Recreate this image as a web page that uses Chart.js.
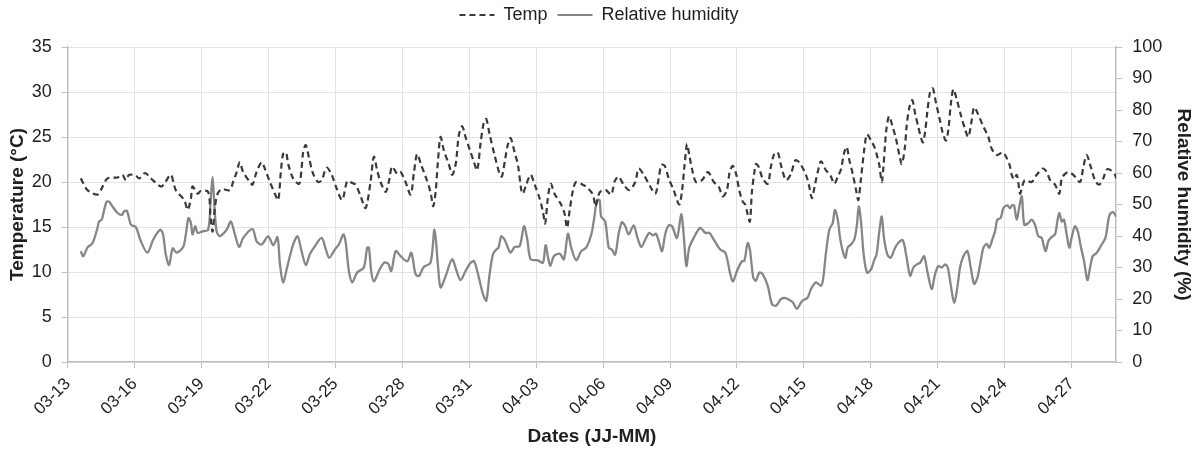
<!DOCTYPE html>
<html>
<head>
<meta charset="utf-8">
<script src="https://cdn.jsdelivr.net/npm/chart.js@4/dist/chart.umd.min.js"></script>
<style>
  html, body { margin: 0; padding: 0; background: #fff; }
  #wrap { width: 1194px; height: 452px; }
</style>
</head>
<body>
<div id="wrap"><canvas id="meteo"></canvas></div>
<script>
// day offsets are counted from 03-13 00:00
const dateLabels = ['03-13', '03-16', '03-19', '03-22', '03-25', '03-28', '03-31', '04-03',
  '04-06', '04-09', '04-12', '04-15', '04-18', '04-21', '04-24', '04-27'];

const tempDays = [0.58, 0.88, 1.33, 1.52, 1.78, 2.23, 2.45, 2.60, 2.75, 3.05, 3.20, 3.47, 3.72, 4.17, 4.32, 4.62, 4.84,
  5.22, 5.37, 5.52, 5.59, 5.82, 5.96, 6.29, 6.40, 6.49, 6.59, 6.70, 6.89, 7.26, 7.41, 7.57, 7.71, 7.86, 8.16, 8.28,
  8.46, 8.69, 8.83, 9.06, 9.28, 9.43, 9.55, 9.65, 9.78, 9.88, 10.10, 10.37, 10.48, 10.55, 10.67, 10.82, 11.00, 11.22,
  11.38, 11.60, 11.83, 12.05, 12.30, 12.52, 12.65, 12.90, 13.13, 13.35, 13.57, 13.72, 13.87, 14.02, 14.25, 14.39,
  14.54, 14.77, 14.92, 15.14, 15.37, 15.52, 15.66, 15.84, 16.04, 16.26, 16.38, 16.49, 16.59, 16.71, 16.86, 17.09,
  17.23, 17.39, 17.53, 17.68, 17.83, 18.06, 18.21, 18.35, 18.51, 18.65, 18.76, 18.91, 19.13, 19.36, 19.46, 19.61,
  19.73, 19.85, 20.03, 20.18, 20.33, 20.40, 20.55, 20.75, 20.93, 21.15, 21.30, 21.40, 21.52, 21.65, 21.82, 22.09,
  22.27, 22.38, 22.50, 22.65, 22.79, 23.09, 23.32, 23.54, 23.66, 23.80, 23.91, 24.13, 24.36, 24.52, 24.69, 24.92,
  25.17, 25.44, 25.59, 25.82, 26.11, 26.34, 26.49, 26.61, 26.76, 26.94, 27.16, 27.41, 27.53, 27.65, 27.76, 27.86,
  27.98, 28.16, 28.43, 28.70, 28.96, 29.18, 29.36, 29.55, 29.67, 29.81, 29.97, 30.10, 30.26, 30.37, 30.48, 30.58,
  30.67, 30.78, 30.85, 30.97, 31.15, 31.38, 31.52, 31.67, 31.83, 31.97, 32.20, 32.42, 32.61, 32.79, 33.09, 33.24,
  33.36, 33.48, 33.62, 33.77, 33.99, 34.18, 34.36, 34.52, 34.66, 34.81, 34.92, 35.04, 35.19, 35.34, 35.44, 35.56,
  35.71, 35.83, 36.01, 36.16, 36.26, 36.38, 36.49, 36.56, 36.64, 36.71, 36.82, 36.96, 37.13, 37.28, 37.39, 37.53,
  37.61, 37.73, 37.86, 37.98, 38.13, 38.33, 38.43, 38.53, 38.65, 38.78, 38.92, 39.07, 39.22, 39.37, 39.48, 39.58,
  39.70, 39.85, 40.03, 40.22, 40.37, 40.52, 40.63, 40.78, 41.02, 41.27, 41.42, 41.65, 41.91, 42.02, 42.21, 42.32,
  42.42, 42.54, 42.61, 42.69, 42.81, 42.91, 43.21, 43.44, 43.71, 43.89, 44.04, 44.26, 44.45, 44.56, 44.71, 44.86,
  45.08, 45.38, 45.53, 45.68, 45.86, 46.05, 46.23, 46.42, 46.58, 46.76, 46.95, 47.00];
const tempValues = [20.4, 19.1, 18.6, 19.3, 20.4, 20.5, 20.8, 20.2, 20.8, 20.7, 20.4, 21.0, 20.4, 19.5, 19.8, 20.8, 19.1,
  18.0, 16.9, 18.2, 19.5, 18.7, 19.0, 18.9, 16.0, 14.5, 17.1, 18.6, 19.2, 19.1, 20.0, 21.1, 22.2, 21.1, 20.0, 19.7,
  21.1, 22.2, 21.5, 20.0, 18.7, 18.0, 21.1, 23.1, 23.3, 22.0, 20.4, 19.8, 21.5, 23.3, 24.1, 22.6, 20.9, 20.0,
  20.2, 21.6, 20.8, 19.3, 18.0, 20.1, 20.0, 19.7, 18.4, 17.1, 20.0, 22.8, 21.3, 20.0, 18.9, 20.0,
  21.7, 20.9, 21.1, 20.0, 18.6, 21.1, 23.1, 21.9, 20.6, 18.9, 17.3, 18.9, 22.2, 25.0, 23.5, 21.9,
  20.8, 22.0, 25.2, 26.2, 25.0, 23.3, 22.2, 21.3, 24.4, 26.6, 27.0, 25.3, 23.0, 20.9, 20.6, 22.6,
  24.2, 24.9, 23.3, 21.9, 19.1, 18.7, 19.7, 20.8, 19.7, 18.2, 16.7, 15.4, 18.2, 19.8, 18.7, 17.6,
  16.5, 14.9, 16.9, 19.1, 20.0, 19.7, 19.3, 18.6, 17.3, 18.6, 19.0, 19.1, 18.6, 20.1, 20.6, 19.7,
  19.1, 20.0, 21.5, 20.8, 19.5, 18.7, 20.4, 21.9, 21.8, 20.4, 19.1, 17.5, 18.9, 21.9, 24.2, 23.0,
  21.5, 20.0, 20.2, 21.1, 20.0, 19.5, 18.4, 19.1, 21.1, 21.8, 20.8, 19.1, 17.8, 17.5, 16.4, 15.6,
  18.9, 21.1, 22.0, 21.7, 20.4, 19.8, 21.7, 23.1, 23.3, 21.9, 20.2, 20.9, 22.4, 22.2, 20.8, 19.5,
  18.2, 19.5, 21.1, 22.3, 21.3, 20.8, 19.8, 20.6, 21.4, 23.3, 23.9, 22.4, 20.9, 19.1, 18.0, 20.4,
  23.7, 25.3, 24.6, 23.9, 23.1, 21.9, 20.0, 21.5, 24.2, 26.1, 27.3, 26.3, 24.8, 23.0, 22.0, 23.9,
  26.3, 28.3, 29.1, 27.7, 26.1, 24.4, 25.5, 27.7, 29.9, 30.4, 28.8, 27.2, 25.5, 24.6, 25.9, 28.5,
  30.3, 29.2, 27.5, 25.9, 25.0, 26.8, 28.3, 27.7, 26.3, 25.0, 23.7, 23.0, 23.3, 23.0, 22.0, 20.8,
  20.3, 20.8, 20.0, 18.7, 19.7, 20.2, 20.0, 20.8, 21.5, 21.1, 20.2, 19.7, 18.7, 20.4, 20.9, 21.1,
  20.8, 20.0, 21.7, 23.0, 21.7, 20.2, 19.7, 20.4, 21.4, 21.3, 20.8, 20.4];

const rhDays = [0.58, 0.69, 0.88, 1.11, 1.33, 1.40, 1.52, 1.63, 1.74, 1.85, 2.00, 2.23, 2.42, 2.52, 2.65, 2.83, 3.05,
  3.27, 3.57, 3.83, 4.14, 4.27, 4.39, 4.54, 4.70, 4.87, 5.17, 5.29, 5.41, 5.52, 5.59, 5.71, 5.82, 6.04, 6.29, 6.40,
  6.49, 6.56, 6.67, 6.82, 7.12, 7.31, 7.49, 7.68, 7.86, 8.28, 8.46, 8.69, 8.98, 9.21, 9.40, 9.51, 9.65, 9.83, 10.10,
  10.30, 10.48, 10.67, 10.85, 11.08, 11.38, 11.57, 11.72, 11.97, 12.15, 12.35, 12.45, 12.60, 12.75, 12.97, 13.27,
  13.42, 13.50, 13.60, 13.72, 13.95, 14.17, 14.36, 14.50, 14.70, 14.92, 15.22, 15.40, 15.59, 15.74, 15.96, 16.26,
  16.44, 16.59, 16.71, 16.94, 17.23, 17.43, 17.61, 17.83, 18.06, 18.21, 18.39, 18.61, 18.76, 18.91, 19.06, 19.21,
  19.31, 19.43, 19.58, 19.70, 19.85, 20.03, 20.26, 20.45, 20.60, 20.75, 21.08, 21.30, 21.42, 21.52, 21.63, 21.79,
  22.05, 22.24, 22.42, 22.57, 22.79, 23.02, 23.24, 23.47, 23.62, 23.72, 23.84, 23.91, 24.09, 24.25, 24.39, 24.54,
  24.69, 24.84, 24.99, 25.14, 25.37, 25.52, 25.71, 25.89, 26.07, 26.22, 26.37, 26.49, 26.64, 26.78, 26.94, 27.09,
  27.31, 27.50, 27.61, 27.73, 27.86, 28.06, 28.35, 28.58, 28.76, 29.00, 29.25, 29.48, 29.70, 29.82, 30.00, 30.22,
  30.33, 30.48, 30.58, 30.73, 30.85, 31.00, 31.15, 31.38, 31.57, 31.75, 31.97, 32.17, 32.35, 32.50, 32.69, 32.91,
  33.17, 33.32, 33.54, 33.77, 33.87, 33.99, 34.14, 34.29, 34.39, 34.52, 34.62, 34.74, 34.86, 34.96, 35.11, 35.26,
  35.37, 35.46, 35.56, 35.68, 35.83, 36.01, 36.14, 36.26, 36.38, 36.49, 36.59, 36.74, 36.89, 37.09, 37.23, 37.43,
  37.58, 37.76, 37.91, 38.06, 38.21, 38.39, 38.53, 38.73, 38.88, 39.03, 39.18, 39.33, 39.45, 39.60, 39.74, 39.88,
  40.00, 40.15, 40.33, 40.48, 40.63, 40.78, 40.90, 41.05, 41.20, 41.31, 41.47, 41.57, 41.67, 41.82, 41.94, 42.12,
  42.24, 42.32, 42.42, 42.54, 42.66, 42.77, 42.88, 43.06, 43.21, 43.36, 43.51, 43.66, 43.74, 43.84, 43.96, 44.11,
  44.26, 44.36, 44.45, 44.56, 44.66, 44.78, 44.90, 45.00, 45.15, 45.28, 45.41, 45.56, 45.71, 45.83, 45.95, 46.13,
  46.35, 46.52, 46.70, 46.86, 47.00];
const rhValues = [35.2, 33.6, 36.3, 37.8, 42.6, 44.6, 45.2, 48.3, 50.9, 50.9, 49.4, 47.3, 46.7, 47.8, 48.0, 43.6, 42.8,
  38.4, 34.7, 38.9, 42.0, 40.5, 34.2, 30.8, 36.1, 34.7, 36.5, 40.5, 45.7, 44.1, 40.5, 43.1, 41.0, 41.5, 42.0, 50.9,
  58.8, 50.9, 41.5, 40.0, 42.0, 44.6, 40.5, 36.5, 39.4, 42.2, 38.4, 37.3, 39.9, 37.1, 39.6, 31.0, 25.3, 30.0, 37.3,
  39.9, 35.2, 30.8, 34.2, 36.8, 39.4, 35.7, 33.1, 35.7, 37.3, 40.5, 38.4, 28.9, 25.3, 28.4, 30.0,
  36.3, 36.3, 28.9, 25.6, 28.9, 31.5, 31.2, 28.9, 35.2, 33.6, 32.0, 34.7, 27.9, 27.3, 30.2, 31.5,
  42.0, 31.0, 23.7, 27.3, 32.6, 28.9, 26.0, 28.9, 31.5, 32.0, 27.9, 21.6, 19.5, 27.9, 34.2, 35.7,
  36.3, 39.9, 38.9, 36.8, 34.7, 36.5, 36.8, 43.1, 38.9, 32.6, 32.3, 31.5, 37.1, 33.6, 30.5, 33.6,
  34.4, 32.6, 40.7, 36.3, 32.3, 35.2, 36.3, 40.5, 46.7, 51.4, 51.4, 46.2, 44.6, 36.3, 35.7, 34.1,
  40.5, 44.4, 43.1, 40.5, 43.4, 39.9, 36.5, 38.9, 41.0, 40.2, 40.7, 38.4, 35.2, 40.5, 43.4, 43.1,
  39.4, 46.9, 40.5, 30.5, 36.3, 39.4, 42.6, 41.0, 41.0, 38.4, 35.7, 34.7, 27.9, 25.6, 28.9, 32.0,
  32.1, 37.8, 35.7, 26.8, 25.8, 28.4, 27.9, 24.2, 18.4, 17.9, 20.0, 20.3, 19.7, 19.0, 16.9, 19.3,
  20.5, 23.2, 25.3, 24.2, 26.8, 34.7, 42.0, 44.1, 48.3, 45.2, 39.4, 35.2, 33.1, 36.3, 37.3, 38.9,
  43.1, 49.4, 44.6, 34.2, 28.4, 29.4, 32.1, 34.2, 41.5, 46.2, 39.4, 34.2, 33.1, 36.3, 37.8, 38.7,
  34.2, 27.4, 30.0, 31.0, 31.5, 33.6, 28.9, 23.2, 27.9, 30.5, 30.0, 31.0, 30.0, 23.7, 18.7, 23.7,
  30.0, 33.6, 35.2, 30.0, 24.8, 26.8, 31.0, 36.3, 37.5, 36.3, 39.4, 41.5, 45.2, 45.7, 48.8, 49.7,
  48.8, 49.7, 49.7, 45.2, 49.4, 52.6, 43.6, 44.1, 45.2, 43.6, 39.9, 39.4, 37.3, 35.2, 38.4, 39.7,
  40.5, 44.6, 47.3, 44.6, 45.2, 40.5, 36.3, 39.4, 43.1, 41.5, 36.8, 32.1, 26.0, 30.0, 33.6, 34.7,
  37.3, 39.4, 46.7, 47.6, 46.2];

const toPoints = (xs, ys) => xs.map((x, i) => ({ x: x, y: ys[i] }));

const axisColor = '#bfbfbf';
const gridColor = '#e3e3e3';
const textColor = '#1f1f1f';
const font = 'Arial, "Liberation Sans", sans-serif';

// extra room under the legend
const legendGap = {
  id: 'legendGap',
  beforeInit(chart) {
    const fit = chart.legend.fit;
    chart.legend.fit = function () {
      fit.call(this);
      this.height += 13;
    };
  }
};

new Chart(document.getElementById('meteo'), {
  type: 'line',
  data: {
    datasets: [{
      label: 'Temp',
      data: toPoints(tempDays, tempValues),
      yAxisID: 'yTemp',
      borderColor: '#3a3a3a',
      borderWidth: 2.2,
      borderDash: [6, 4],
      pointRadius: 0,
      tension: 0.3
    }, {
      label: 'Relative humidity',
      data: toPoints(rhDays, rhValues),
      yAxisID: 'yRh',
      borderColor: '#868686',
      borderWidth: 2.3,
      pointRadius: 0,
      tension: 0.3
    }]
  },
  plugins: [legendGap],
  options: {
    responsive: true,
    maintainAspectRatio: false,
    animation: false,
    layout: { padding: { left: 6, right: 2, top: -4, bottom: 4 } },
    plugins: {
      tooltip: { enabled: false },
      legend: {
        position: 'top',
        labels: {
          color: textColor,
          font: { family: font, size: 18 },
          usePointStyle: true,
          pointStyle: 'line',
          pointStyleWidth: 35,
          boxHeight: 8,
          padding: 10,
          generateLabels: (chart) => Chart.defaults.plugins.legend.labels.generateLabels(chart).map((item) => {
            const ds = chart.data.datasets[item.datasetIndex];
            item.lineDash = ds.borderDash || [];
            item.lineWidth = 2;
            item.strokeStyle = ds.borderColor;
            return item;
          })
        }
      }
    },
    scales: {
      x: {
        type: 'linear',
        min: 0,
        max: 47,
        afterBuildTicks: (scale) => {
          scale.ticks = dateLabels.map((_, i) => ({ value: i * 3 }));
        },
        ticks: {
          color: textColor,
          font: { family: font, size: 17 },
          minRotation: 45,
          maxRotation: 45,
          autoSkip: false,
          padding: 6,
          callback: (v) => dateLabels[Math.round(v / 3)]
        },
        grid: { color: gridColor, tickColor: axisColor, tickLength: 6 },
        border: { color: axisColor, width: 1.5 },
        title: {
          display: true,
          text: 'Dates (JJ-MM)',
          color: textColor,
          font: { family: font, size: 19, weight: 'bold' },
          padding: { top: 0, bottom: 0 }
        }
      },
      yTemp: {
        position: 'left',
        min: 0,
        max: 35,
        ticks: {
          stepSize: 5,
          color: textColor,
          font: { family: font, size: 18 },
          padding: 10
        },
        grid: { color: gridColor, tickColor: axisColor, tickLength: 6 },
        border: { color: axisColor, width: 1.5 },
        title: {
          display: true,
          text: 'Temperature (°C)',
          color: textColor,
          font: { family: font, size: 19, weight: 'bold' },
          padding: { top: 0, bottom: -7 }
        }
      },
      yRh: {
        position: 'right',
        min: 0,
        max: 100,
        ticks: {
          stepSize: 10,
          color: textColor,
          font: { family: font, size: 18 },
          padding: 10
        },
        grid: { drawOnChartArea: false, tickColor: axisColor, tickLength: 6 },
        border: { color: axisColor, width: 1.5 },
        title: {
          display: true,
          text: 'Relative humidity (%)',
          color: textColor,
          font: { family: font, size: 19, weight: 'bold' },
          padding: { top: -3, bottom: 0 }
        }
      }
    }
  }
});
</script>
</body>
</html>
